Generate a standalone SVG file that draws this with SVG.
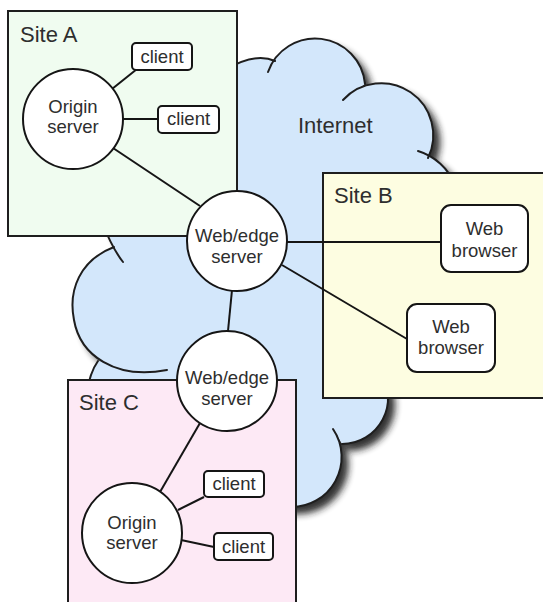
<svg xmlns="http://www.w3.org/2000/svg" width="543" height="602" viewBox="0 0 543 602">
<defs>
<style>
.site{stroke:#1e1e1e;stroke-width:2}
.node{fill:#fff;stroke:#151515;stroke-width:2}
.t{font-family:"Liberation Sans",Arial,Helvetica,sans-serif;fill:#2e2e2e}
.nt{font-size:18.5px;text-anchor:middle}
.st{font-size:22px}
.cl{fill:none;stroke:#1e1e1e;stroke-width:2;stroke-linecap:round}
.conn line{stroke:#151515;stroke-width:2}
</style>
<filter id="sh" x="-20%" y="-20%" width="140%" height="140%"><feGaussianBlur stdDeviation="3.5"/></filter>
<path id="cloudShape" d="M 200,110 L 225,70 Q 255,52 275,61 L 268,72 A 50 50 0 0 1 365,84 L 343,100 A 52 52 0 0 1 428,158 L 418,151 A 58 58 0 0 1 455,185 L 470,200 L 470,350 L 380,372 A 46 46 0 0 1 342,444 L 333,429 A 50 50 0 0 1 290,507 L 200,520 L 86,395 Q 90,372 98,361 L 167,370 C 115,380 80,355 74,320 C 68,290 80,260 114,247 L 100,215 L 150,180 Z"/>
</defs>
<rect width="543" height="602" fill="#fff"/>
<g id="internet">
<use href="#cloudShape" transform="translate(7,7)" fill="#1a1a1a" filter="url(#sh)" opacity="0.9"/>
<use href="#cloudShape" fill="#d3e7fb"/>
<path class="cl" d="M 225,70 Q 255,52 275,61"/>
<path class="cl" d="M 268,72 A 50 50 0 0 1 365,84"/>
<path class="cl" d="M 343,100 A 52 52 0 0 1 428,158"/>
<path class="cl" d="M 418,151 A 58 58 0 0 1 455,185"/>
<path class="cl" d="M 380,372 A 46 46 0 0 1 342,444"/>
<path class="cl" d="M 333,429 A 50 50 0 0 1 290,507"/>
<path class="cl" d="M 86,395 Q 90,372 98,361"/>
<path class="cl" d="M 167,370 C 115,380 80,355 74,320 C 68,290 80,260 114,247"/>
<path class="cl" d="M 123,262 Q 112,248 102,222"/>
</g>
<g id="siteA"><rect class="site" x="8" y="11" width="229" height="225" fill="#f0fcf0"/><text class="t st" x="20" y="42">Site A</text></g>
<g id="siteB"><rect class="site" x="323" y="173" width="240" height="225" fill="#fdfde1"/><text class="t st" x="334" y="203">Site B</text></g>
<g id="siteC"><rect class="site" x="68" y="380" width="228" height="240" fill="#fde9f5"/><text class="t st" x="79" y="410">Site C</text></g>
<text class="t st" x="298" y="133">Internet</text>
<g id="connectors" class="conn">
<line x1="112" y1="89" x2="137" y2="69"/>
<line x1="122" y1="119" x2="158" y2="119"/>
<line x1="113" y1="148" x2="200" y2="206"/>
<line x1="287" y1="242" x2="441" y2="242"/>
<line x1="282" y1="265" x2="407" y2="339"/>
<line x1="232" y1="290" x2="228" y2="331"/>
<line x1="200" y1="423" x2="160" y2="492"/>
<line x1="178" y1="510" x2="204" y2="497"/>
<line x1="181" y1="540" x2="214" y2="547"/>
</g>
<g id="originA"><circle class="node" cx="73" cy="119" r="50"/><text class="t nt" x="73" y="113">Origin</text><text class="t nt" x="73" y="133">server</text></g>
<g id="clientA1"><rect class="node" x="132" y="43" width="60" height="27" rx="4"/><text class="t nt" x="162" y="62.5">client</text></g>
<g id="clientA2"><rect class="node" x="158" y="106" width="61" height="27" rx="4"/><text class="t nt" x="188.5" y="125">client</text></g>
<g id="edge1"><circle class="node" cx="237" cy="241" r="50"/><text class="t nt" x="237" y="242">Web/edge</text><text class="t nt" x="237" y="263">server</text></g>
<g id="browser1"><rect class="node" x="441" y="205" width="87" height="67" rx="10"/><text class="t nt" x="484.5" y="235">Web</text><text class="t nt" x="484.5" y="257">browser</text></g>
<g id="browser2"><rect class="node" x="407" y="304" width="88" height="68" rx="10"/><text class="t nt" x="451" y="333">Web</text><text class="t nt" x="451" y="354">browser</text></g>
<g id="edge2"><circle class="node" cx="227" cy="381" r="50"/><text class="t nt" x="227" y="384">Web/edge</text><text class="t nt" x="227" y="405">server</text></g>
<g id="originC"><circle class="node" cx="132" cy="533" r="50"/><text class="t nt" x="132" y="529">Origin</text><text class="t nt" x="132" y="549">server</text></g>
<g id="clientC1"><rect class="node" x="204" y="471" width="60" height="26" rx="4"/><text class="t nt" x="234" y="490">client</text></g>
<g id="clientC2"><rect class="node" x="214" y="533" width="59" height="27" rx="4"/><text class="t nt" x="243.5" y="553">client</text></g>
</svg>
